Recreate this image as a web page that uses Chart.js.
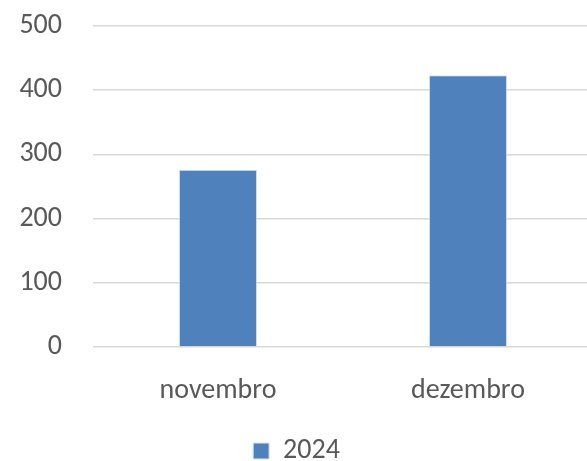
<!DOCTYPE html>
<html><head><meta charset="utf-8">
<script src="https://cdn.jsdelivr.net/npm/chart.js@4"></script>
<style>html,body{margin:0;padding:0;background:#fff;overflow:hidden}#w{width:593px;height:497px;position:relative;top:-22px}</style>
</head><body><div id="w"><canvas id="c"></canvas></div>
<script>
const categories = ["novembro", "dezembro"];
const seriesName = "2024";
const values2024 = [276, 423];
const yTicks = [0, 100, 200, 300, 400, 500];

const font = {family: "Carlito, Lato, 'Open Sans', sans-serif", size: 28};
new Chart(document.getElementById('c'), {
  type: 'bar',
  data: {labels: categories, datasets: [{label: seriesName, data: values2024, backgroundColor: '#4f81bd', borderColor: '#dce6f2', borderWidth: 1, barPercentage: 0.626, categoryPercentage: 0.5}]},
  options: {
    responsive: true, maintainAspectRatio: false, animation: false,
    devicePixelRatio: 1,
    layout: {autoPadding: false, padding: {top: 26, left: 0, right: 0, bottom: 0}},
    plugins: {
      legend: {position: 'bottom', labels: {font: font, color: '#595959', boxWidth: 16, boxHeight: 16, padding: 9}},
      tooltip: {enabled: false}
    },
    scales: {
      x: {grid: {display: false, drawTicks: false}, border: {display: false},
          ticks: {font: font, color: '#595959', padding: 27},
          afterFit: s => { s.height = 81; }},
      y: {min: 0, max: 500, afterBuildTicks: s => { s.ticks = yTicks.map(v => ({value: v})); },
          grid: {color: '#d9d9d9', lineWidth: 1.5, drawTicks: false}, border: {display: false},
          ticks: {font: font, color: '#595959', padding: 31},
          afterFit: s => { s.width = 93; }}
    }
  }
});
</script></body></html>
